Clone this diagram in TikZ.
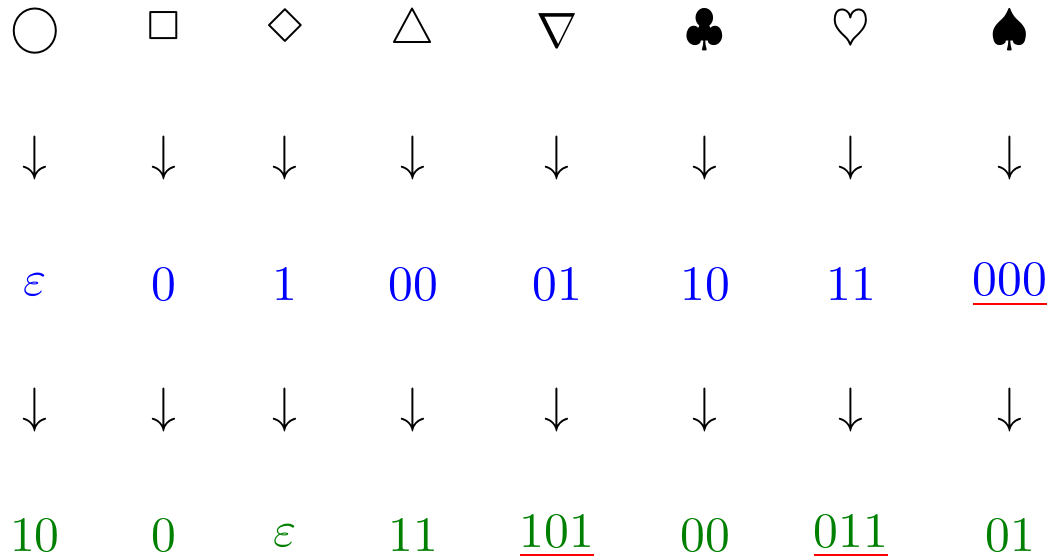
\documentclass[tikz,border=0pt]{standalone}
\usepackage{latexsym}
\definecolor{cblue}{RGB}{0,0,255}
\definecolor{cgreen}{RGB}{0,128,0}
\newcommand{\redul}[2]{{\color{red}\underline{\textcolor{#1}{#2}}}}
\begin{document}
\begin{tikzpicture}[x=0.2016pt,y=-0.2016pt,
  cell/.style={inner sep=0pt,anchor=center,text=black},
  arr/.style={cell},
  codeA/.style={cell,text=cblue},
  codeB/.style={cell,text=cgreen}]
\useasboundingbox (0,0) rectangle (1052,558);
% row 1: symbols
\node[cell] (s1) at (35,31)    {$\bigcirc$};
\node[cell] (s2) at (163.5,31) {$\Box$};
\node[cell] (s3) at (285,31)   {$\Diamond$};
\node[cell] (s4) at (413,31)   {$\triangle$};
\node[cell] (s5) at (557,31)   {$\nabla$};
\node[cell] (s6) at (705,31)   {$\clubsuit$};
\node[cell] (s7) at (851,31)   {$\heartsuit$};
\node[cell] (s8) at (1010,31)  {$\spadesuit$};
% row 2: arrows
\node[arr] (a1) at (35,158.5)    {$\downarrow$};
\node[arr] (a2) at (163.5,158.5) {$\downarrow$};
\node[arr] (a3) at (285,158.5)   {$\downarrow$};
\node[arr] (a4) at (413,158.5)   {$\downarrow$};
\node[arr] (a5) at (557,158.5)   {$\downarrow$};
\node[arr] (a6) at (705,158.5)   {$\downarrow$};
\node[arr] (a7) at (851,158.5)   {$\downarrow$};
\node[arr] (a8) at (1010,158.5)  {$\downarrow$};
% row 3: first code
\node[codeA] (c1) at (35,284.5)    {$\varepsilon$};
\node[codeA] (c2) at (163.5,284.5) {$0$};
\node[codeA] (c3) at (285,284.5)   {$1$};
\node[codeA] (c4) at (413,284.5)   {$00$};
\node[codeA] (c5) at (557,284.5)   {$01$};
\node[codeA] (c6) at (705,284.5)   {$10$};
\node[codeA] (c7) at (851,284.5)   {$11$};
\node[codeA] (c8) at (1010,284.5)  {\redul{cblue}{000}};
% row 4: arrows
\node[arr] (b1) at (35,410)    {$\downarrow$};
\node[arr] (b2) at (163.5,410) {$\downarrow$};
\node[arr] (b3) at (285,410)   {$\downarrow$};
\node[arr] (b4) at (413,410)   {$\downarrow$};
\node[arr] (b5) at (557,410)   {$\downarrow$};
\node[arr] (b6) at (705,410)   {$\downarrow$};
\node[arr] (b7) at (851,410)   {$\downarrow$};
\node[arr] (b8) at (1010,410)  {$\downarrow$};
% row 5: second code
\node[codeB] (d1) at (35,536)    {$10$};
\node[codeB] (d2) at (163.5,536) {$0$};
\node[codeB] (d3) at (285,536)   {$\varepsilon$};
\node[codeB] (d4) at (413,536)   {$11$};
\node[codeB] (d5) at (557,536)   {\redul{cgreen}{101}};
\node[codeB] (d6) at (705,536)   {$00$};
\node[codeB] (d7) at (851,536)   {\redul{cgreen}{011}};
\node[codeB] (d8) at (1010,536)  {$01$};
\end{tikzpicture}
\end{document}
